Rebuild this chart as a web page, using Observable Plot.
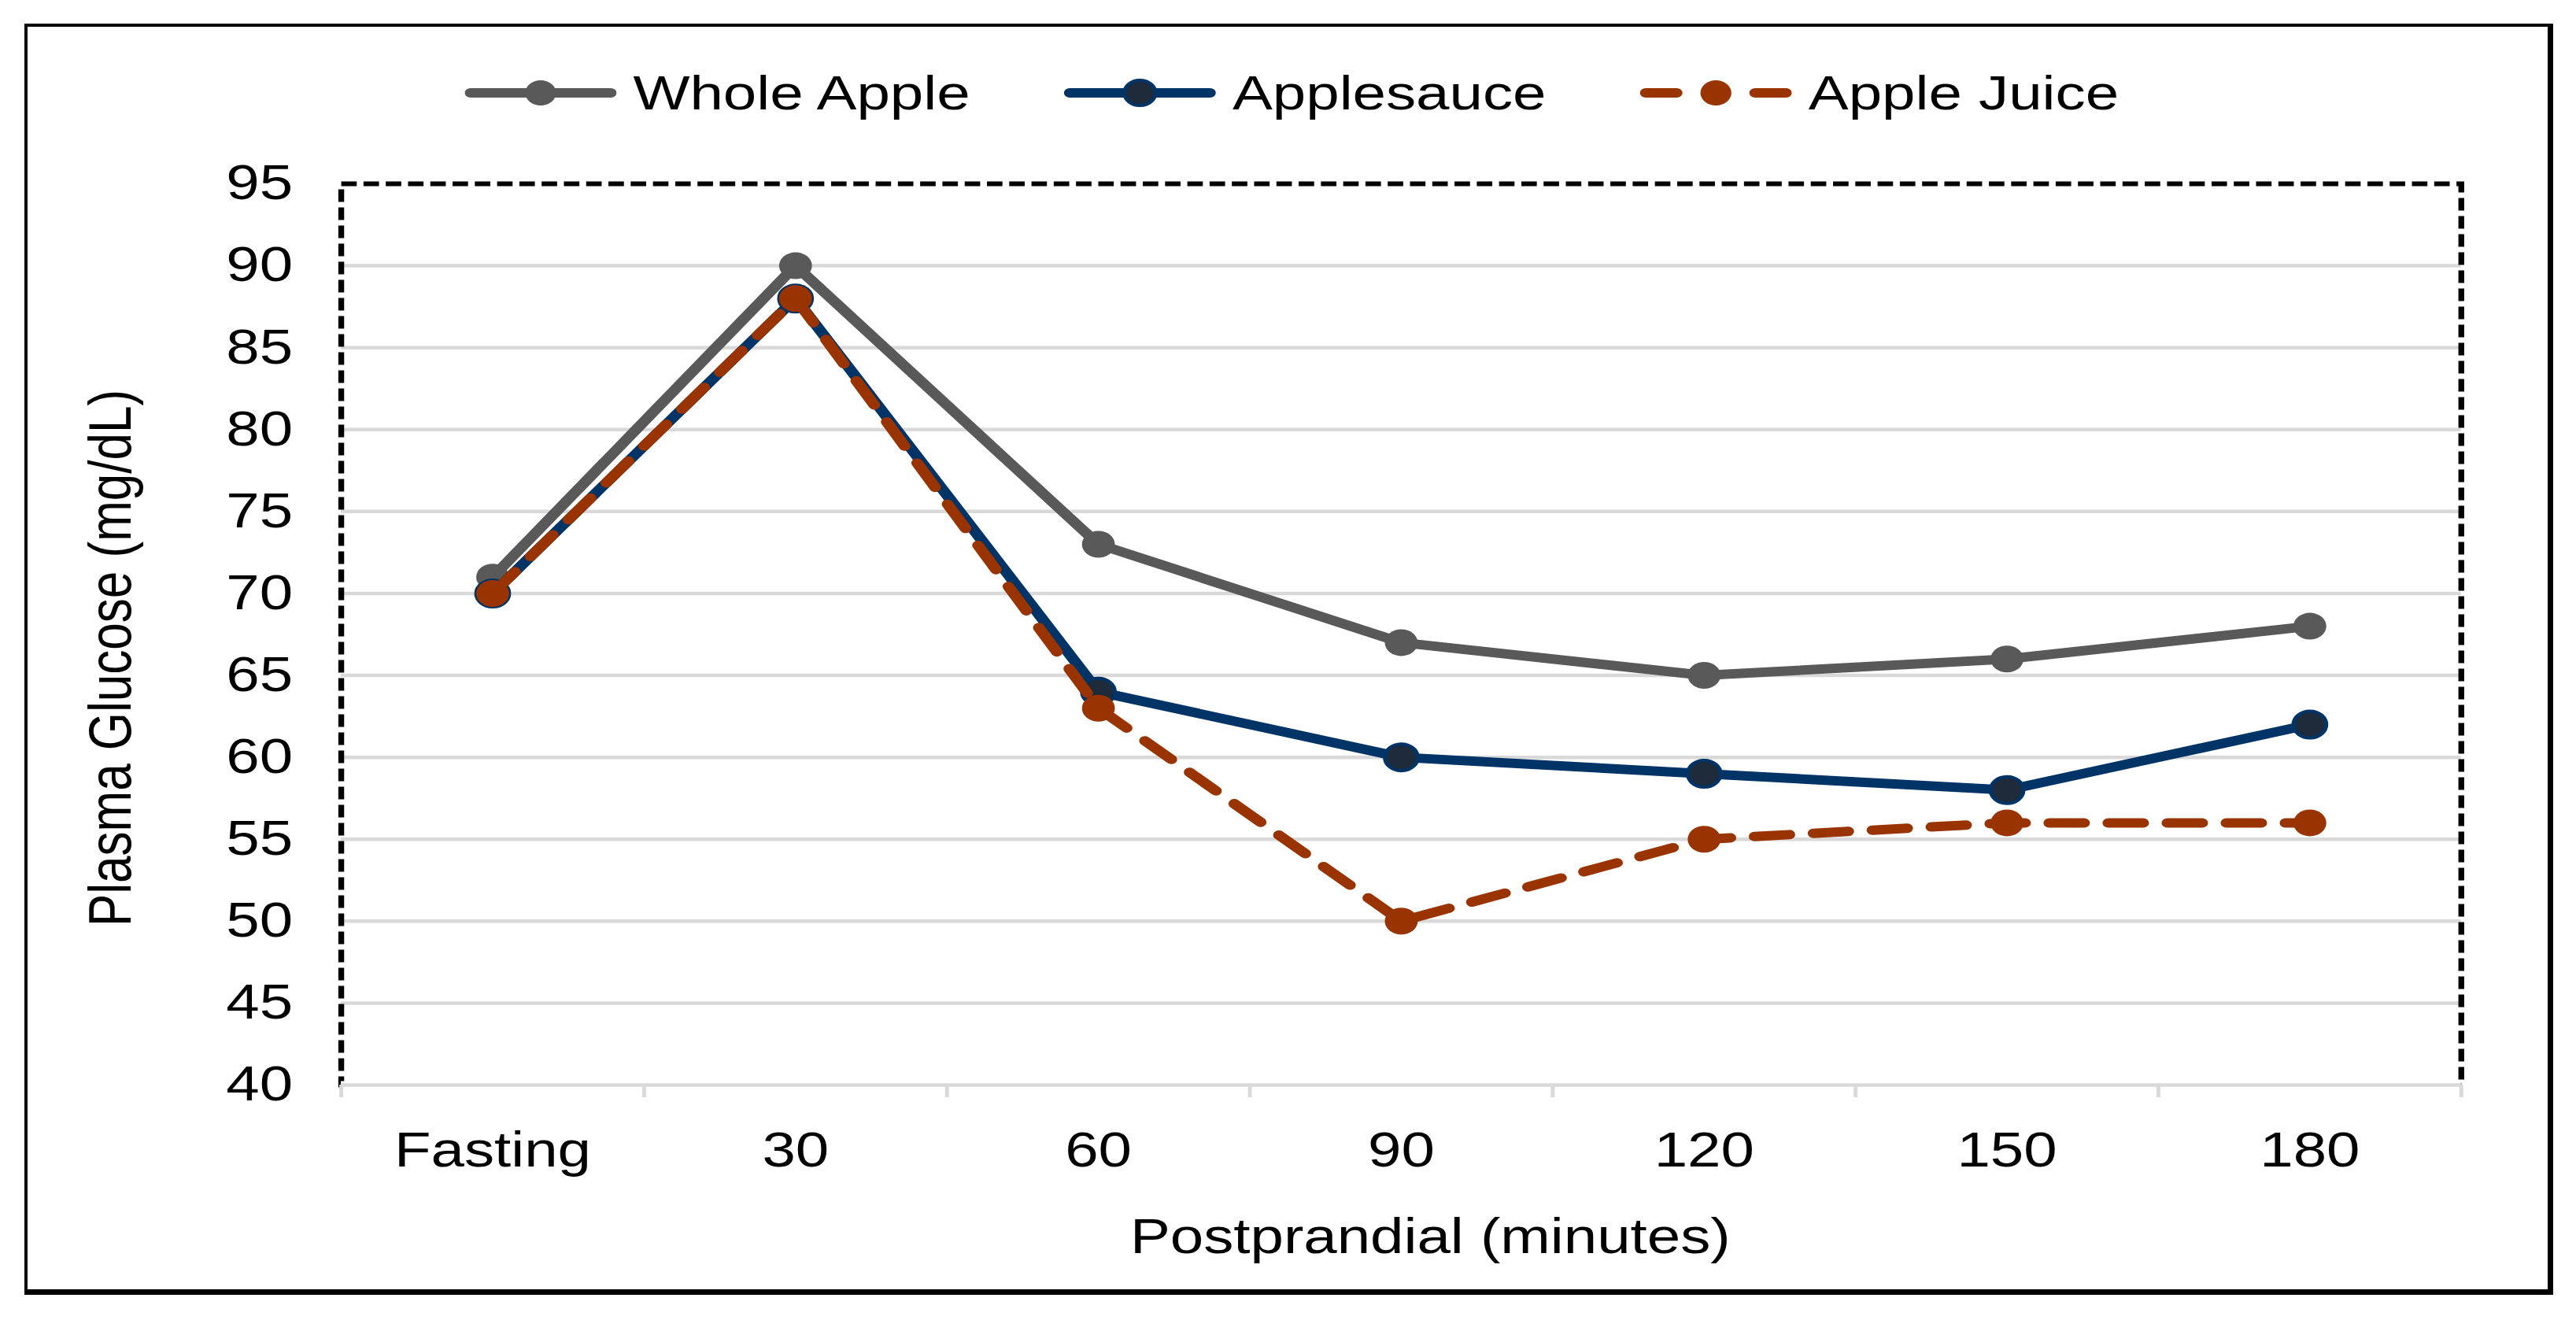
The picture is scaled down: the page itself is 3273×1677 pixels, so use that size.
<!DOCTYPE html>
<html>
<head>
<meta charset="utf-8">
<script src="https://cdn.jsdelivr.net/npm/d3@7"></script>
<script src="https://cdn.jsdelivr.net/npm/@observablehq/plot@0.6"></script>
<style>
  html, body { margin: 0; padding: 0; background: #fff; overflow: hidden; }
  body { width: 3273px; height: 1677px; position: relative; font-family: "Liberation Sans", Arial, sans-serif; }
  #outer { position: absolute; left: 31px; top: 30px; width: 3202px; height: 1604px; z-index: 5;
           border-top: 4px solid #000; border-left: 4px solid #000;
           border-right: 7px solid #000; border-bottom: 7px solid #000; box-sizing: content-box;
           background: transparent; pointer-events: none; }
  #wrap { position: absolute; left: 0; top: 0; width: 2661px; height: 1677px; z-index: 1;
          transform: scaleX(1.23); transform-origin: 0 0; }
  #legend { position: absolute; left: 480px; top: 86px; height: 64px; display: flex; align-items: center;
            font-size: 62px; color: #000; line-height: 1; white-space: nowrap; }
  .item { display: flex; align-items: center; margin-right: 97px; }
  .item svg { margin-right: 17px; display: block; }
  #chart { position: absolute; left: 0; top: 170px; }
</style>
</head>
<body>
<div id="wrap">
  <div id="legend"></div>
  <div id="chart"></div>
</div>
<div id="outer"></div>
<script>
// ---- data ----
const categories = ["Fasting", "30", "60", "90", "120", "150", "180"];
const wholeApple = [71, 90, 73, 67, 65, 66, 68];
const applesauce = [70, 88, 64, 60, 59, 58, 62];
const appleJuice = [70, 88, 63, 50, 55, 56, 56];
const seriesNames = ["Whole Apple", "Applesauce", "Apple Juice"];
const yTicks = [40, 45, 50, 55, 60, 65, 70, 75, 80, 85, 90, 95];
const yLabel = "Plasma Glucose (mg/dL)";
const xLabel = "Postprandial (minutes)";

const seriesValues = [wholeApple, applesauce, appleJuice];
const styles = [
  {stroke: "#595959", dash: null, dotFill: "#595959", dotStroke: "none"},
  {stroke: "#003366", dash: null, dotFill: "#1d2b3b", dotStroke: "#003366"},
  {stroke: "#993300", dash: "36,25", dotFill: "#993300", dotStroke: "none"}
];

const series = seriesNames.map((name, k) =>
  seriesValues[k].map((v, i) => ({series: name, i, v})));

const idx = d3.range(categories.length);
const boundaries = d3.range(categories.length + 1).map(j => j - 0.5);

// ---- legend ----
const legend = document.getElementById("legend");
seriesNames.forEach((name, k) => {
  const s = styles[k];
  const item = document.createElement("div");
  item.className = "item";
  if (k === seriesNames.length - 1) item.style.marginRight = "0";
  const ns = "http://www.w3.org/2000/svg";
  const svg = document.createElementNS(ns, "svg");
  svg.setAttribute("width", 157); svg.setAttribute("height", 40);
  const addLine = (x1, x2) => {
    const l = document.createElementNS(ns, "line");
    l.setAttribute("x1", x1); l.setAttribute("x2", x2);
    l.setAttribute("y1", 20); l.setAttribute("y2", 20);
    l.setAttribute("stroke", s.stroke); l.setAttribute("stroke-width", 12);
    l.setAttribute("stroke-linecap", "round");
    svg.appendChild(l);
  };
  if (s.dash) { addLine(6, 38); addLine(119, 151); } else { addLine(6, 151); }
  const c = document.createElementNS(ns, "circle");
  c.setAttribute("cx", 78.5); c.setAttribute("cy", 20); c.setAttribute("r", 16);
  c.setAttribute("fill", s.dotFill);
  if (s.dotStroke !== "none") { c.setAttribute("stroke", s.dotStroke); c.setAttribute("stroke-width", 4); }
  svg.appendChild(c);
  const t = document.createElement("span");
  t.textContent = name;
  item.appendChild(svg); item.appendChild(t);
  legend.appendChild(item);
});

// ---- chart ----
const marks = [
  Plot.gridY(yTicks.filter(t => t > 40 && t < 95), {stroke: "#d9d9d9", strokeOpacity: 1, strokeWidth: 4.5}),
  Plot.frame({stroke: "#000", strokeWidth: 6, strokeDasharray: "16,7"}),
  Plot.ruleY([40], {stroke: "#fff", strokeWidth: 10}),
  Plot.ruleY([40], {stroke: "#d9d9d9", strokeWidth: 4.5}),
  Plot.axisX({ticks: boundaries, tickSize: 16, tickFormat: () => "", stroke: "#d9d9d9", strokeWidth: 4, label: null}),
  Plot.axisX({ticks: idx, tickSize: 0, tickPadding: 59, tickFormat: i => categories[i], fontSize: 62, fill: "#000", label: null}),
  Plot.axisY({ticks: yTicks, tickSize: 0, tickPadding: 50, fontSize: 62, fill: "#000", label: null})
];
series.forEach((data, k) => {
  const s = styles[k];
  marks.push(Plot.line(data, {x: "i", y: "v", stroke: s.stroke, strokeWidth: 12,
    strokeLinecap: "round", strokeLinejoin: "round", strokeDasharray: s.dash || undefined}));
  marks.push(Plot.dot(data, {x: "i", y: "v", r: 17, fill: s.dotFill,
    stroke: s.dotStroke === "none" ? null : s.dotStroke, strokeWidth: 4}));
});
marks.push(Plot.text([xLabel], {frameAnchor: "bottom", dy: 194, dx: 30, fontSize: 62, fill: "#000", lineAnchor: "middle", textAnchor: "middle"}));
marks.push(Plot.text([yLabel], {frameAnchor: "left", rotate: -90, dx: -237, dy: 30, fontSize: 62, fill: "#000", lineAnchor: "middle", textAnchor: "middle"}));

const chart = Plot.plot({
  width: 2661,
  height: 1507,
  marginLeft: 352,
  marginRight: 119,
  marginTop: 63,
  marginBottom: 299,
  style: {fontFamily: "'Liberation Sans', Arial, sans-serif", color: "#000", background: "transparent", overflow: "visible"},
  x: {type: "linear", domain: [-0.5, categories.length - 0.5]},
  y: {domain: [40, 95]},
  marks
});
document.getElementById("chart").appendChild(chart);
</script>
</body>
</html>
